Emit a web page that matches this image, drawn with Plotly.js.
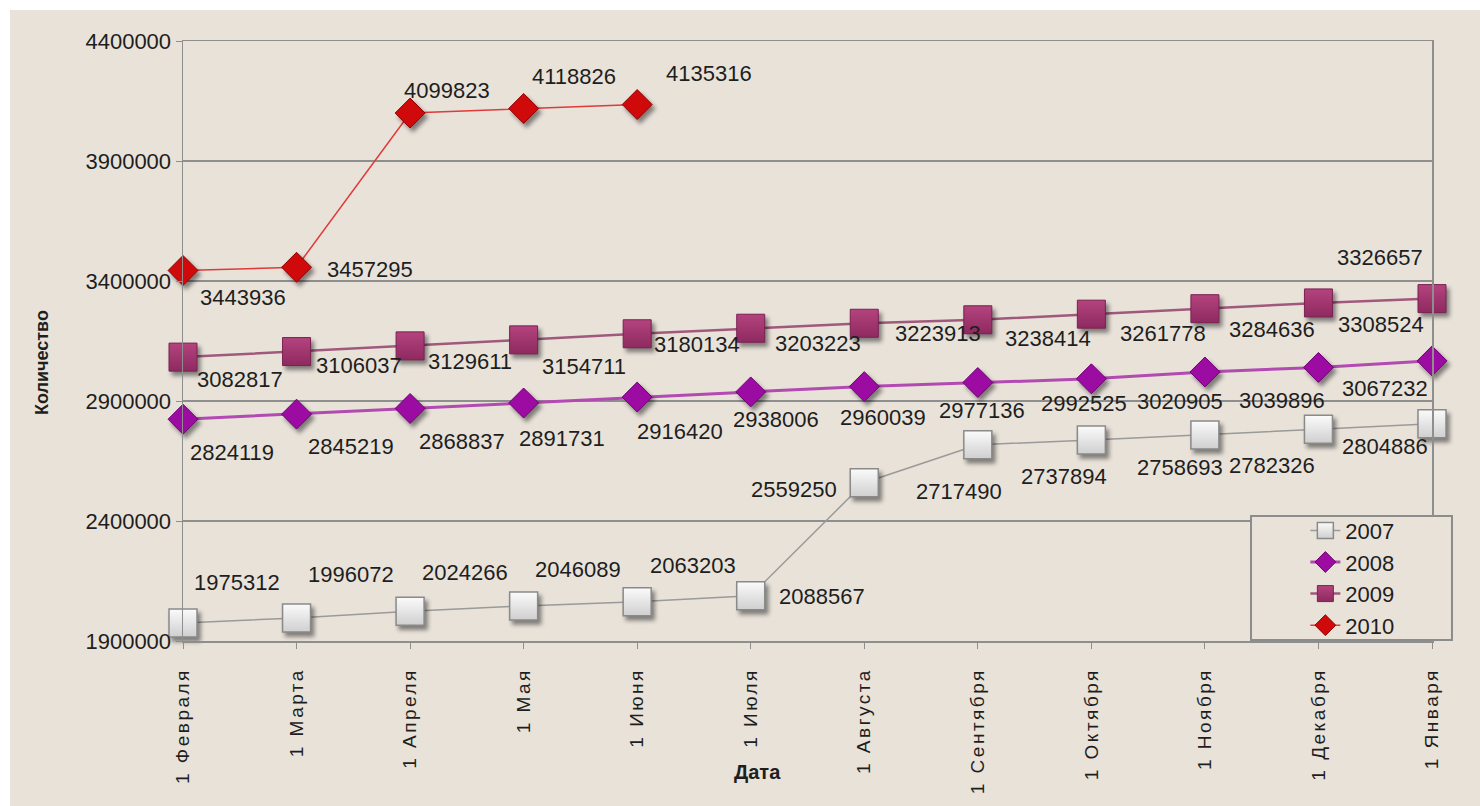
<!DOCTYPE html>
<html>
<head>
<meta charset="utf-8">
<script src="https://cdn.plot.ly/plotly-3.0.1.min.js"></script>
<style>
  html, body { margin: 0; padding: 0; background: #ffffff; }
  #chart { position: absolute; left: 10px; top: 10px; width: 1470px; height: 796px; }
  .xtick text { letter-spacing: 2.5px; }
  .scatterlayer .points path { filter: drop-shadow(3px 4px 2px rgba(0,0,0,0.45)); }
</style>
</head>
<body>
<div id="chart"></div>
<script>
const categories = ['1 Февраля', '1 Марта', '1 Апреля', '1 Мая', '1 Июня', '1 Июля',
  '1 Августа', '1 Сентября', '1 Октября', '1 Ноября', '1 Декабря', '1 Января'];

const values2007 = [1975312, 1996072, 2024266, 2046089, 2063203, 2088567,
  2559250, 2717490, 2737894, 2758693, 2782326, 2804886];
const values2008 = [2824119, 2845219, 2868837, 2891731, 2916420, 2938006,
  2960039, 2977136, 2992525, 3020905, 3039896, 3067232];
const values2009 = [3082817, 3106037, 3129611, 3154711, 3180134, 3203223,
  3223913, 3238414, 3261778, 3284636, 3308524, 3326657];
const values2010 = [3443936, 3457295, 4099823, 4118826, 4135316];

const seriesNames = ['2007', '2008', '2009', '2010'];
const yTickValues = [1900000, 2400000, 2900000, 3400000, 3900000, 4400000];

// data-label offsets from each point, in pixels (style only: dx right, dy down)
const labelDx2007 = [54, 54, 55, 54, 56, 71, -70, -19, -27, -25, -46, -47];
const labelDy2007 = [-40, -43, -39, -36, -36, 1, 7, 47, 37, 33, 36, 23];
const labelDx2008 = [49, 54, 52, 38, 43, 25, 19, 4, -7, -25, -36, -47];
const labelDy2008 = [33, 32, 33, 36, 34, 28, 31, 28, 25, 30, 33, 28];
const labelDx2009 = [57, 62, 60, 60, 60, 67, 74, 70, 72, 67, 63, -52];
const labelDy2009 = [22, 14, 16, 27, 11, 15, 10, 19, 19, 21, 22, -41];
const labelDx2010 = [60, 73, 37, 50, 72];
const labelDy2010 = [27, 2, -23, -32, -31];

const fontFamily = 'Liberation Sans, Arial, sans-serif';
const labelFont = {family: fontFamily, size: 22, color: '#1e1e1e'};
const bg = '#e8e2d9';
const gridCol = '#8e8e8e';

function mkTrace(name, vals, line, marker) {
  return {
    type: 'scatter',
    mode: 'lines+markers',
    name: name,
    x: categories.slice(0, vals.length),
    y: vals,
    line: line,
    marker: marker,
    cliponaxis: false,
    hoverinfo: 'x+y+name'
  };
}

function mkLabels(vals, dxs, dys) {
  return vals.map((v, i) => ({
    xref: 'x', yref: 'y',
    x: categories[i], y: v,
    text: String(v),
    showarrow: false,
    xanchor: 'center', yanchor: 'middle',
    xshift: dxs[i], yshift: -dys[i],
    font: labelFont
  }));
}

const traces = [
  mkTrace(seriesNames[0], values2007,
    {color: '#9a9a9a', width: 1.5},
    {symbol: 'square', size: 28, color: '#fbfbfb',
     gradient: {type: 'vertical', color: '#cfcfcf'},
     line: {color: '#8a8a8a', width: 1.5}}),
  mkTrace(seriesNames[1], values2008,
    {color: '#b24ab2', width: 3},
    {symbol: 'diamond', size: 23, color: '#9c0ca2',
     line: {color: '#6e0072', width: 1}}),
  mkTrace(seriesNames[2], values2009,
    {color: '#a0587c', width: 2.5},
    {symbol: 'square', size: 28, color: '#b4437e',
     gradient: {type: 'vertical', color: '#8e2a60'},
     line: {color: '#7a2052', width: 1}}),
  mkTrace(seriesNames[3], values2010,
    {color: '#e03a3a', width: 1.5},
    {symbol: 'diamond', size: 23, color: '#d00a0a',
     line: {color: '#900000', width: 1}})
];

const dataLabels = [].concat(
  mkLabels(values2007, labelDx2007, labelDy2007),
  mkLabels(values2008, labelDx2008, labelDy2008),
  mkLabels(values2009, labelDx2009, labelDy2009),
  mkLabels(values2010, labelDx2010, labelDy2010)
);

const layout = {
  width: 1470,
  height: 796,
  paper_bgcolor: bg,
  plot_bgcolor: bg,
  margin: {l: 173, r: 48, t: 31, b: 165},
  showlegend: true,
  font: {family: fontFamily, color: '#1e1e1e'},
  xaxis: {
    type: 'category',
    categoryorder: 'array',
    categoryarray: categories,
    range: [0, 11],
    autorange: false,
    tickangle: -90,
    tickfont: {family: fontFamily, size: 19, color: '#1e1e1e'},
    ticks: 'outside',
    ticklen: 6,
    tickcolor: gridCol,
    ticklabelstandoff: 12,
    showgrid: false,
    showline: true,
    linecolor: gridCol,
    linewidth: 1.5,
    mirror: true,
    zeroline: false,
    fixedrange: true
  },
  yaxis: {
    range: [1900000, 4400000],
    autorange: false,
    tickvals: yTickValues,
    ticktext: yTickValues.map(String),
    tickfont: {family: fontFamily, size: 22, color: '#1e1e1e'},
    ticks: 'outside',
    ticklen: 6,
    tickcolor: gridCol,
    showgrid: true,
    gridcolor: gridCol,
    gridwidth: 1.5,
    showline: true,
    linecolor: gridCol,
    linewidth: 1.5,
    mirror: true,
    zeroline: false,
    fixedrange: true
  },
  legend: {
    x: 0.8986, xanchor: 'left',
    y: 0.219, yanchor: 'top',
    bgcolor: 'rgba(0,0,0,0)',
    borderwidth: 0,
    font: {family: fontFamily, size: 22, color: '#1e1e1e'},
    tracegroupgap: 0,
    itemsizing: 'trace'
  },
  shapes: [{
    type: 'rect', xref: 'paper', yref: 'paper',
    x0: 0.8551, x1: 1.0160, y0: 0.0017, y1: 0.2083,
    line: {color: '#8c8c8c', width: 2},
    fillcolor: bg,
    layer: 'above'
  }],
  annotations: [
    {text: '<b>Количество</b>', xref: 'paper', yref: 'paper', x: -0.1129, y: 0.465,
     textangle: -90, showarrow: false, xanchor: 'center', yanchor: 'middle',
     font: {family: fontFamily, size: 18, color: '#1e1e1e'}},
    {text: '<b>Дата</b>', xref: 'paper', yref: 'paper', x: 0.4596, y: -0.2183,
     showarrow: false, xanchor: 'center', yanchor: 'middle',
     font: {family: fontFamily, size: 20, color: '#1e1e1e'}}
  ].concat(dataLabels)
};

Plotly.newPlot('chart', traces, layout, {displayModeBar: false, staticPlot: true});
</script>
</body>
</html>
